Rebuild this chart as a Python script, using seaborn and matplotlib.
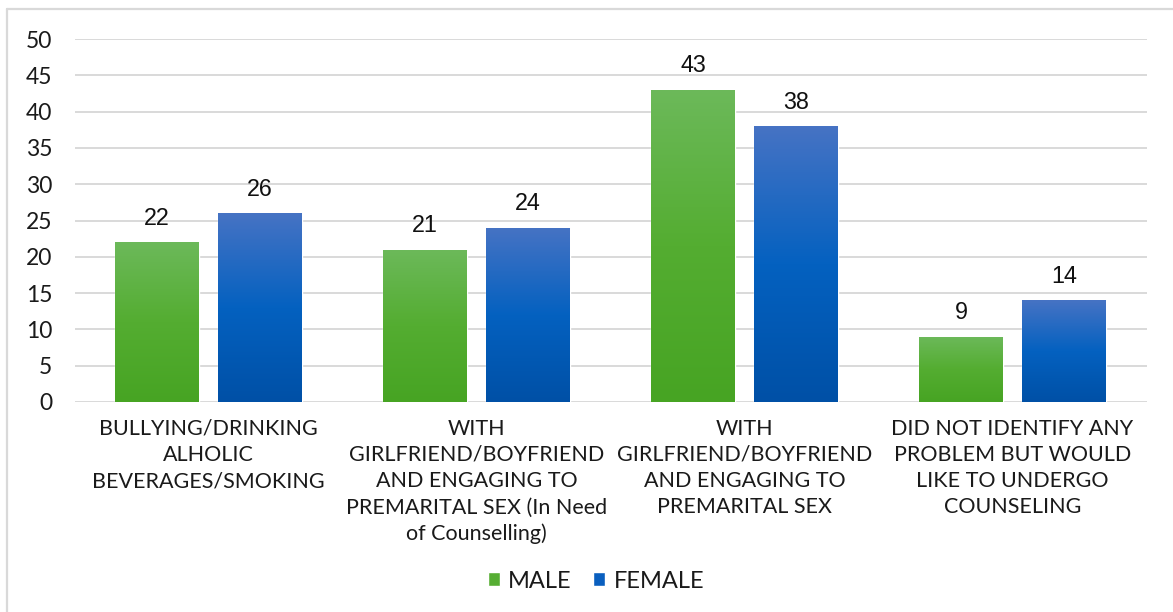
import numpy as np
import pandas as pd
import matplotlib
matplotlib.use("Agg")
import matplotlib.pyplot as plt
from matplotlib.colors import LinearSegmentedColormap
from matplotlib.lines import Line2D
import seaborn as sns

categories = [
    "BULLYING/DRINKING\nALHOLIC\nBEVERAGES/SMOKING",
    "WITH\nGIRLFRIEND/BOYFRIEND\nAND ENGAGING TO\nPREMARITAL SEX (In Need\nof Counselling)",
    "WITH\nGIRLFRIEND/BOYFRIEND\nAND ENGAGING TO\nPREMARITAL SEX",
    "DID NOT IDENTIFY ANY\nPROBLEM BUT WOULD\nLIKE TO UNDERGO\nCOUNSELING",
]
series_names = ["MALE", "FEMALE"]
male_values = [22, 21, 43, 9]
female_values = [26, 24, 38, 14]
y_ticks = list(range(0, 51, 5))

df = pd.DataFrame({
    "category": categories * 2,
    "sex": ["MALE"] * len(categories) + ["FEMALE"] * len(categories),
    "value": male_values + female_values,
})

sns.set_theme(style="white")
plt.rcParams["font.family"] = ["Lato", "DejaVu Sans"]
text_color = "#1a1a1a"

green_mid = "#56ad33"
blue_mid = "#0a5fbf"
gradients = {
    "MALE": LinearSegmentedColormap.from_list("g", ["#47a423", "#54ad31", "#6cb95a"]),
    "FEMALE": LinearSegmentedColormap.from_list("b", ["#0050a6", "#0461c0", "#4673c4"]),
}

fig = plt.figure(figsize=(11.73, 6.12), dpi=100)
W, H = 1173, 612
ax = fig.add_axes([74.5 / W, (H - 402) / H, 1072 / W, (402 - 39) / H])

sns.barplot(data=df, x="category", y="value", hue="sex", hue_order=series_names,
            palette=[green_mid, blue_mid], width=0.77, gap=0.19, saturation=1,
            ax=ax, legend=True, errorbar=None)

ax.set_ylim(0, 50)
ax.set_xlim(-0.5, len(categories) - 0.5)
ax.set_yticks(y_ticks)
ax.set_yticklabels([str(t) for t in y_ticks], fontsize=16.5, color=text_color)
ax.tick_params(axis="y", length=0, pad=16)
ax.tick_params(axis="x", length=0, pad=12, labelsize=15.5, labelcolor=text_color)
for lbl in ax.get_xticklabels():
    lbl.set_linespacing(1.39)
ax.set_xlabel("")
ax.set_ylabel("")
ax.yaxis.grid(True, color="#d9d9d9", linewidth=1.4)
ax.set_axisbelow(True)
for s in ax.spines.values():
    s.set_visible(False)

# vertical gradient fill on every bar
for container, name in zip(ax.containers, series_names):
    cmap = gradients[name]
    for bar in container:
        x0, y0 = bar.get_x(), bar.get_y()
        w, h = bar.get_width(), bar.get_height()
        grad = np.linspace(0, 1, 256).reshape(-1, 1)
        im = ax.imshow(grad, extent=[x0, x0 + w, y0, y0 + h], origin="lower",
                       aspect="auto", cmap=cmap, zorder=bar.get_zorder() + 0.1,
                       interpolation="bilinear")
        im.set_clip_path(bar)
    ax.bar_label(container, labels=[f"{v:g}" for v in container.datavalues],
                 padding=9, fontsize=16.8, color="#111111",
                 family=["Liberation Sans", "DejaVu Sans"])

ax.set_ylim(0, 50)
ax.set_xlim(-0.5, len(categories) - 0.5)

handles, labels = ax.get_legend_handles_labels()
ax.legend(handles, labels, loc="center", bbox_to_anchor=(596 / W, (H - 581) / H),
          bbox_transform=fig.transFigure, ncol=2, frameon=False, fontsize=17,
          handlelength=0.5, handleheight=0.5, handletextpad=0.36,
          columnspacing=0.9, labelcolor=text_color)

# chart frame edges
border = "#d9d9d9"
fig.add_artist(Line2D([6.5 / W, 6.5 / W], [0, 1 - 9 / H], transform=fig.transFigure,
                      color=border, lw=1.6))
fig.add_artist(Line2D([6.5 / W, 1], [1 - 9 / H, 1 - 9 / H], transform=fig.transFigure,
                      color=border, lw=1.6))

fig.savefig("out.png", dpi=100, facecolor="white")
